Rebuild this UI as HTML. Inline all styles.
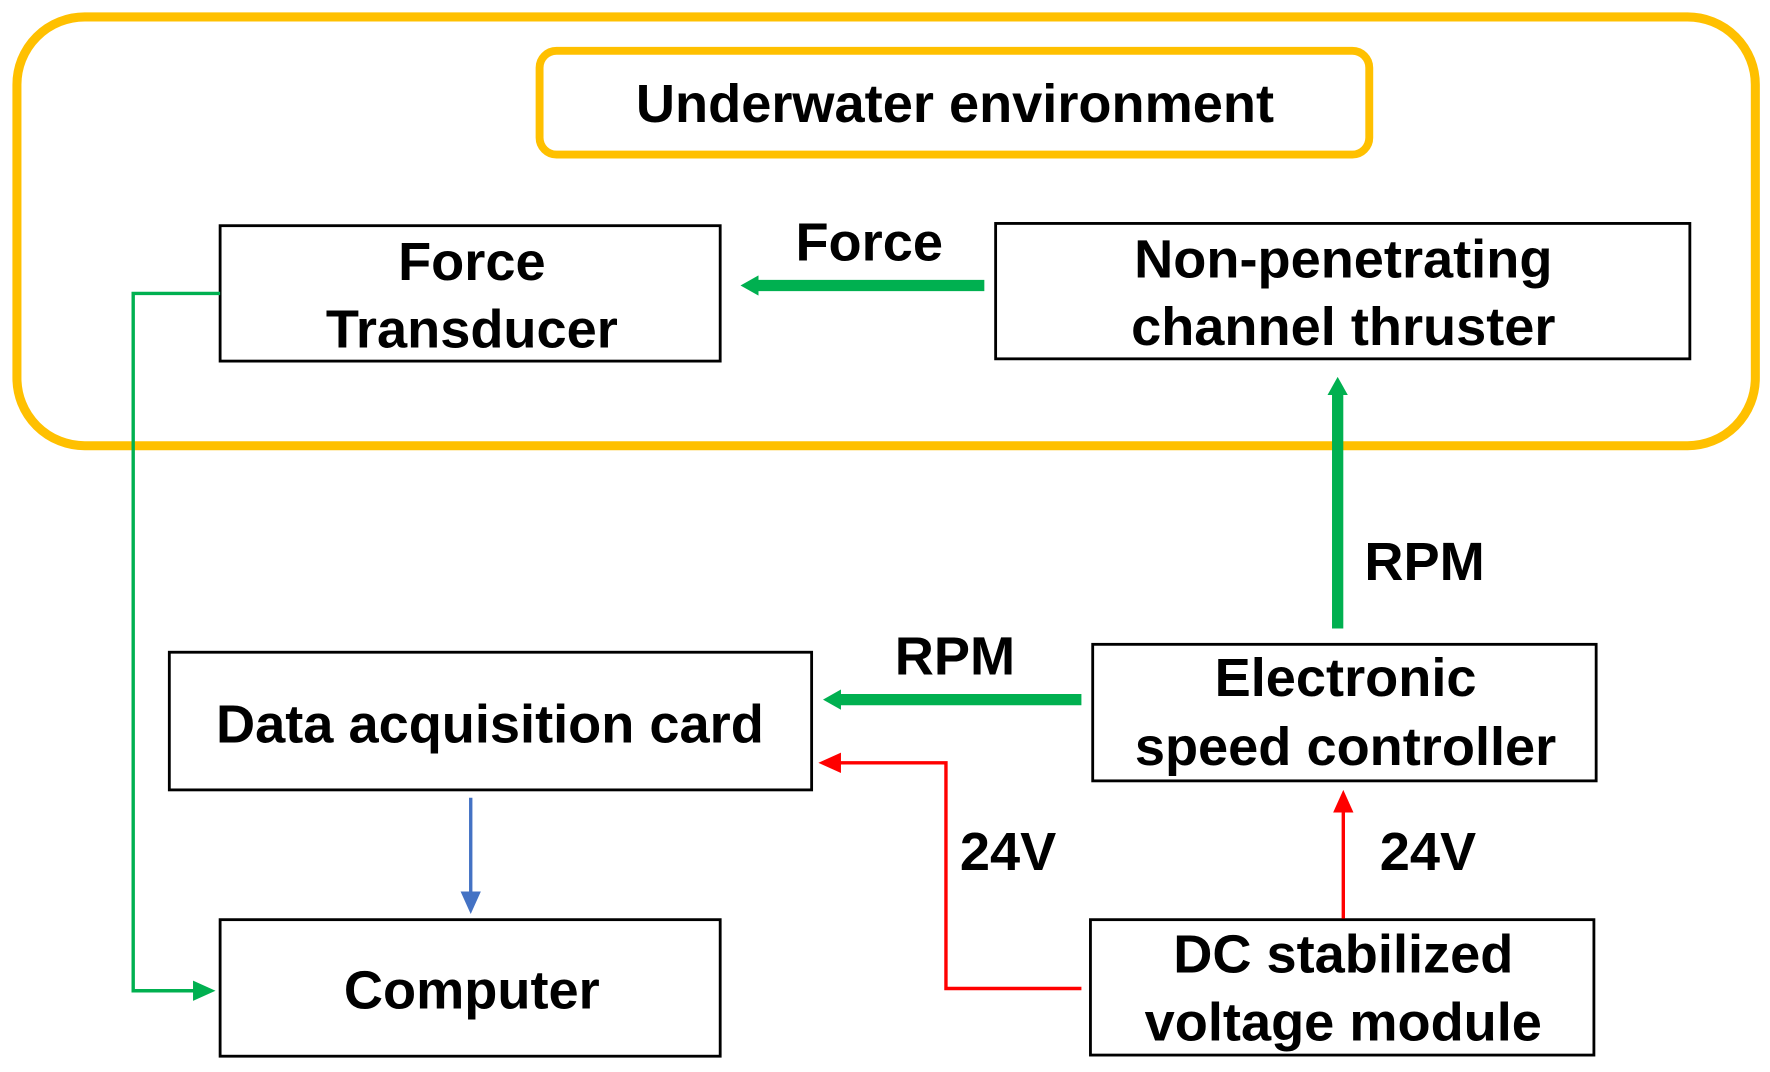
<!DOCTYPE html>
<html><head><meta charset="utf-8"><style>
html,body{margin:0;padding:0;background:#fff;width:1770px;height:1072px;overflow:hidden}
svg{display:block}
text{font-family:"Liberation Sans","Noto Sans CJK SC",sans-serif;font-size:48px;font-weight:bold;fill:#000;text-anchor:middle;dominant-baseline:central}
</style></head><body>
<svg width="1770" height="1072" viewBox="0 0 1568 950" preserveAspectRatio="none">
<defs>
<marker id="g" markerWidth="16" markerHeight="18" refX="2" refY="9" orient="auto" markerUnits="userSpaceOnUse" viewBox="0 0 16 18"><path d="M0,0 L16,9 L0,18 Z" fill="#00B050"/></marker>
<marker id="gt" markerWidth="20" markerHeight="18" refX="3" refY="9" orient="auto" markerUnits="userSpaceOnUse" viewBox="0 0 20 18"><path d="M0,0 L20,9 L0,18 Z" fill="#00B050"/></marker>
<marker id="r" markerWidth="20" markerHeight="18" refX="3" refY="9" orient="auto" markerUnits="userSpaceOnUse" viewBox="0 0 20 18"><path d="M0,0 L20,9 L0,18 Z" fill="#FF0000"/></marker>
<marker id="b" markerWidth="20" markerHeight="18" refX="3" refY="9" orient="auto" markerUnits="userSpaceOnUse" viewBox="0 0 20 18"><path d="M0,0 L20,9 L0,18 Z" fill="#4472C4"/></marker>
</defs>
<rect x="15" y="15" width="1540" height="380" rx="60" fill="none" stroke="#FFC000" stroke-width="8"/>
<rect x="478" y="45" width="735" height="92" rx="15" fill="none" stroke="#FFC000" stroke-width="7"/>
<text x="846" y="92" font-size="51">Underwater environment</text>

<g fill="none" stroke="#000" stroke-width="2.5">
<rect x="195" y="200" width="443" height="120"/>
<rect x="882" y="198" width="615" height="120"/>
<rect x="968" y="571" width="446" height="121"/>
<rect x="150" y="578" width="569" height="122"/>
<rect x="966" y="815" width="446" height="120"/>
<rect x="195" y="815" width="443" height="121"/>
</g>
<text x="418" y="232">Force</text>
<text x="418" y="292">Transducer</text>
<text x="1190" y="230">Non-penetrating</text>
<text x="1190" y="290">channel thruster</text>
<text x="1192" y="601">Electronic</text>
<text x="1192" y="662">speed controller</text>
<text x="434" y="642">Data acquisition card</text>
<text x="1190" y="846">DC stabilized</text>
<text x="1190" y="906">voltage module</text>
<text x="418" y="878">Computer</text>

<g stroke="#00B050" stroke-width="10" fill="none">
<line x1="872" y1="253" x2="670" y2="253" marker-end="url(#g)"/>
<line x1="1185" y1="557" x2="1185" y2="348" marker-end="url(#g)"/>
<line x1="958" y1="620" x2="743" y2="620" marker-end="url(#g)"/>
</g>
<text x="770" y="215">Force</text>
<text x="1262" y="498">RPM</text>
<text x="846" y="582">RPM</text>

<polyline points="195,260 118,260 118,878 174,878" fill="none" stroke="#00B050" stroke-width="3" marker-end="url(#gt)"/>
<polyline points="958,876 838,876 838,676 742,676" fill="none" stroke="#FF0000" stroke-width="3" marker-end="url(#r)"/>
<line x1="1190" y1="814" x2="1190" y2="717" stroke="#FF0000" stroke-width="3" marker-end="url(#r)"/>
<line x1="417" y1="707" x2="417" y2="793" stroke="#4472C4" stroke-width="3" marker-end="url(#b)"/>
<text x="893" y="755">24V</text>
<text x="1265" y="755">24V</text>
</svg>
</body></html>
